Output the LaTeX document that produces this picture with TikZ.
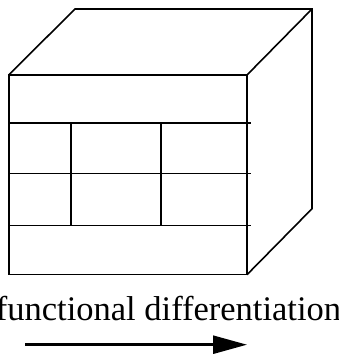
\documentclass[tikz,border=0pt]{standalone}
\usepackage{fontspec}
\setmainfont{Liberation Serif}
\usetikzlibrary{arrows.meta,positioning,calc}
\begin{document}
\begin{tikzpicture}[
  x=1pt,y=1pt,
  edge/.style={line width=1.6pt,line join=miter},
  grid/.style={line width=1.1pt},
  cell/.style={line width=1.5pt},
  flow/.style={-{Triangle[length=34pt,width=18pt]},line width=2.6pt},
  lab/.style={font=\fontsize{34.5}{40}\selectfont,inner sep=0pt,anchor=base}
]
\useasboundingbox (0,0) rectangle (339,354);
% cube corners
\coordinate (fl) at (8.7,79.3);
\coordinate (fr) at (247,79.3);
\coordinate (tl) at (8.7,279);
\coordinate (tr) at (247,279);
\coordinate (bl) at (75,345);
\coordinate (br) at (312,345);
\coordinate (bb) at (312,145.3);
\draw[edge] (fl) rectangle (tr);
\draw[edge] (tl) -- (bl) -- (br) -- (bb) -- (fr);
\draw[edge] (tr) -- (br);
% compartments
\foreach \y in {231,180.5,128.3}
  \draw[grid] (8.7,\y) -- (251,\y);
\foreach \x in {71,161}
  \draw[cell] (\x,231) -- (\x,127.5);
\node[lab] (t) at (168.5,34) {functional differentiation};
\coordinate (a0) at (25,9.3);
\coordinate (a1) at (247,9.3);
\draw[flow] (a0) -- (a1);
\end{tikzpicture}
\end{document}
